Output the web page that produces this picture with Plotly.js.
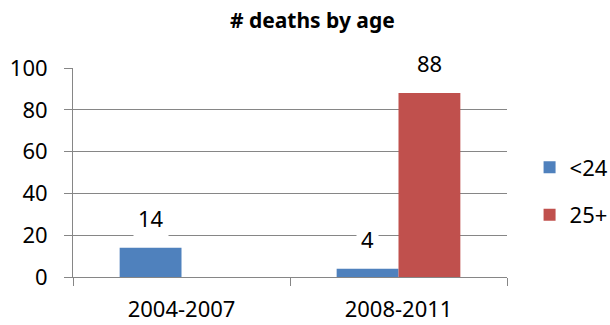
<!DOCTYPE html>
<html>
<head>
<meta charset="utf-8">
<script src="https://cdn.plot.ly/plotly-3.0.1.min.js"></script>
<style>html,body{margin:0;padding:0;background:#fff;}#chart{width:610px;height:325px;}</style>
</head>
<body>
<div id="chart"></div>
<script>
const categories = ["2004-2007", "2008-2011"];
const seriesNames = ["<24", "25+"];
const under24 = [14, 4];
const over25 = [null, 88];
const colors = ["#4F81BD", "#C0504D"];
const yTicks = [0, 20, 40, 60, 80, 100];

const FONT = "Noto Sans, Open Sans, Liberation Sans, sans-serif";
const ML = 73, MR = 103;
const plotW = 610 - ML - MR;
const bargap = 0.43;
const barPx = plotW / categories.length * (1 - bargap) / 2;

const series = [under24, over25];
const traces = series.map((vals, i) => ({
  type: "bar",
  name: seriesNames[i],
  x: categories,
  y: vals,
  marker: {color: colors[i], line: {width: 0}},
  legendgroup: "g" + i,
  hoverinfo: "skip"
}));

const annotations = [];
series.forEach((vals, i) => {
  vals.forEach((v, j) => {
    if (v === null) return;
    annotations.push({
      x: categories[j], y: v, xref: "x", yref: "y",
      text: String(v), showarrow: false,
      yanchor: "bottom", yshift: 10,
      xshift: (i === 0 ? -1 : 1) * barPx / 2,
      bgcolor: "#ffffff", borderpad: 4,
      font: {family: FONT, size: 22, color: "#000"}
    });
  });
});

const layout = {
  width: 610, height: 325,
  margin: {l: ML, r: MR, t: 68, b: 48, autoexpand: false},
  paper_bgcolor: "#fff", plot_bgcolor: "#fff",
  title: {text: "<b># deaths by age</b>", x: 0.512, xanchor: "center", y: 0.937, yanchor: "middle",
          font: {family: FONT, size: 21, color: "#000"}},
  barmode: "group",
  bargap: bargap,
  bargroupgap: 0,
  showlegend: true,
  legend: {x: 1.052, xanchor: "left", y: 0.625, yanchor: "top",
           font: {family: FONT, size: 22, color: "#000"},
           tracegroupgap: 16, traceorder: "grouped", bgcolor: "rgba(0,0,0,0)"},
  xaxis: {
    type: "category",
    tickson: "boundaries",
    ticks: "outside", ticklen: 8, tickcolor: "#868686", tickwidth: 1,
    showline: true, linecolor: "#868686", linewidth: 1,
    showgrid: false,
    ticklabelstandoff: 13,
    tickfont: {family: FONT, size: 22, color: "#000"},
    fixedrange: true
  },
  yaxis: {
    range: [0, 100],
    tickvals: yTicks,
    ticks: "outside", ticklen: 8, tickcolor: "#868686", tickwidth: 1,
    showline: true, linecolor: "#868686", linewidth: 1,
    showgrid: true, gridcolor: "#868686", gridwidth: 1,
    zeroline: false,
    ticklabelstandoff: 12,
    tickfont: {family: FONT, size: 22, color: "#000"},
    fixedrange: true
  },
  annotations: annotations
};

Plotly.newPlot("chart", traces, layout, {staticPlot: true, displayModeBar: false});
</script>
</body>
</html>
